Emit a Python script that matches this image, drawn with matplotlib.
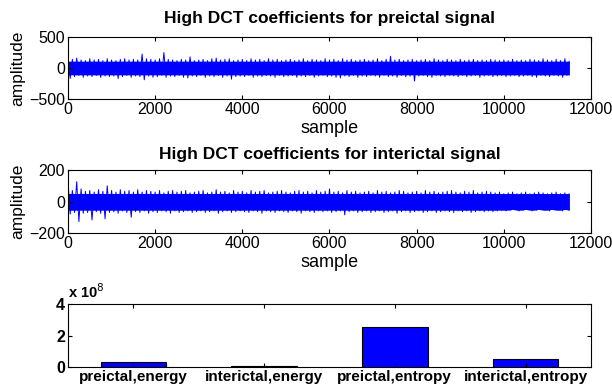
import numpy as np
import matplotlib
matplotlib.use("Agg")
import matplotlib.pyplot as plt

plt.rcParams['font.family'] = ['Liberation Sans', 'DejaVu Sans']

# ---- data (envelope of the signals, every 100 samples) ----
step = 100
pre_upper = [110, 140, 160, 130, 120, 150, 130, 140, 120, 150,
             130, 120, 140, 150, 130, 140, 130, 225, 150, 140,
             130, 150, 250, 140, 130, 120, 140, 130, 180, 120,
             130, 140, 120, 150, 160, 130, 140, 150, 120, 130,
             140, 120, 150, 130, 140, 120, 150, 130, 140, 120,
             130, 140, 120, 130, 150, 120, 140, 130, 120, 150,
             130, 140, 120, 150, 130, 140, 120, 130, 140, 120,
             130, 150, 120, 140, 190, 130, 140, 120, 130, 140,
             120, 130, 140, 120, 150, 130, 120, 140, 130, 120,
             140, 120, 130, 140, 120, 130, 120, 140, 130, 120,
             130, 120, 140, 120, 130, 120, 140, 130, 120, 150,
             130, 120, 140, 120, 150, 110]
pre_lower = [-170, -140, -120, -150, -130, -140, -120, -150, -130, -140,
             -130, -170, -140, -120, -150, -130, -140, -190, -130, -150,
             -140, -120, -150, -130, -140, -120, -150, -160, -130, -140,
             -120, -150, -130, -140, -120, -150, -130, -180, -140, -130,
             -140, -120, -150, -130, -140, -120, -130, -150, -120, -140,
             -130, -120, -150, -130, -140, -120, -150, -130, -120, -140,
             -130, -150, -160, -130, -140, -120, -150, -130, -140, -120,
             -130, -150, -120, -140, -130, -150, -120, -140, -130, -210,
             -130, -120, -140, -150, -120, -130, -140, -120, -130, -140,
             -120, -140, -130, -120, -150, -130, -120, -140, -130, -120,
             -140, -130, -120, -140, -130, -120, -140, -150, -120, -130,
             -140, -120, -130, -150, -120, -110]
inter_upper = [126, 70, 126, 80, 65, 70, 60, 75, 65, 100,
               70, 60, 75, 65, 70, 60, 75, 60, 70, 65,
               60, 70, 55, 65, 70, 60, 65, 70, 55, 60,
               65, 70, 55, 60, 75, 60, 65, 55, 70, 60,
               65, 55, 70, 60, 65, 70, 55, 60, 65, 70,
               60, 55, 65, 70, 60, 65, 55, 70, 60, 65,
               80, 60, 65, 55, 70, 60, 65, 55, 60, 65,
               55, 70, 60, 65, 55, 60, 70, 65, 55, 60,
               65, 55, 70, 60, 65, 55, 60, 65, 70, 60,
               55, 65, 60, 70, 55, 60, 65, 60, 55, 60,
               50, 55, 60, 50, 55, 60, 50, 55, 60, 55,
               50, 55, 60, 50, 55, 50]
inter_lower = [-80, -70, -128, -75, -70, -117, -65, -75, -110, -70,
               -65, -75, -60, -70, -100, -65, -70, -60, -75, -65,
               -70, -60, -65, -75, -60, -70, -65, -60, -70, -65,
               -60, -70, -65, -60, -75, -65, -60, -70, -65, -60,
               -65, -70, -60, -65, -75, -60, -65, -70, -60, -65,
               -70, -60, -65, -75, -60, -65, -70, -60, -65, -60,
               -70, -65, -60, -85, -65, -60, -70, -65, -60, -70,
               -65, -60, -70, -65, -60, -75, -65, -60, -70, -65,
               -60, -70, -65, -60, -70, -65, -60, -65, -70, -60,
               -65, -60, -70, -65, -60, -65, -60, -65, -60, -55,
               -60, -55, -50, -60, -55, -50, -60, -55, -50, -55,
               -60, -50, -55, -60, -50, -55]

bar_labels = ['preictal,energy', 'interictal,energy', 'preictal,entropy', 'interictal,entropy']
bar_values = [0.34e8, 0.06e8, 2.56e8, 0.53e8]

titles = ['High DCT coefficients for preictal signal',
          'High DCT coefficients for interictal signal']

fig = plt.figure(figsize=(6.12, 3.91), dpi=100)
W, H = 612, 391


def ax_rect(x0, y0, x1, y1):
    return [x0 / W, 1 - y1 / H, (x1 - x0) / W, (y1 - y0) / H]


def style(ax):
    ax.tick_params(direction='in', top=True, right=True, length=3, width=0.8,
                   labelsize=11.5, pad=2)
    for s in ax.spines.values():
        s.set_linewidth(0.8)


def draw_signal(ax, upper, lower, ylim, yticks, title, tpad):
    upper = np.asarray(upper, float)
    lower = np.asarray(lower, float)
    x = np.arange(len(upper)) * step
    core_hi = np.minimum(upper, 0.85 * np.median(upper))
    core_lo = np.maximum(lower, 0.85 * np.median(lower))
    ax.fill_between(x, core_lo, core_hi, color='blue', lw=0)
    xz = np.empty(2 * len(x))
    yz = np.empty(2 * len(x))
    xz[0::2] = x
    xz[1::2] = np.minimum(x + step / 2, x[-1])
    yz[0::2] = upper
    yz[1::2] = lower
    ax.plot(xz, yz, color='blue', lw=0.7)
    ax.set_xlim(0, 12000)
    ax.set_ylim(*ylim)
    ax.set_yticks(yticks)
    ax.set_xticks(range(0, 12001, 2000))
    ax.set_xlabel('sample', fontsize=13, labelpad=2)
    ax.set_ylabel('amplitude', fontsize=12.5, labelpad=3)
    ax.set_title(title, fontsize=12.5, fontweight='bold', pad=tpad)
    style(ax)


ax1 = fig.add_axes(ax_rect(68, 37, 591, 99))
draw_signal(ax1, pre_upper, pre_lower, (-500, 500), [-500, 0, 500], titles[0], 10)

ax2 = fig.add_axes(ax_rect(68, 170, 591, 233))
draw_signal(ax2, inter_upper, inter_lower, (-200, 200), [-200, 0, 200], titles[1], 8)

ax3 = fig.add_axes(ax_rect(68, 304, 591, 367))
pos = np.arange(1, len(bar_values) + 1)
ax3.bar(pos, np.asarray(bar_values) / 1e8, width=0.5, color='blue',
        edgecolor='black', linewidth=0.8)
ax3.set_xlim(0.5, 4.5)
ax3.set_ylim(0, 4)
ax3.set_yticks([0, 2, 4])
ax3.set_xticks(pos)
ax3.set_xticklabels(bar_labels, fontweight='bold')
for t in ax3.get_yticklabels():
    t.set_fontweight('bold')
style(ax3)
ax3.tick_params(axis='x', labelsize=11)
ax3.text(0.0, 1.04, r'x 10$^{8}$', transform=ax3.transAxes, fontsize=10.5,
         fontweight='bold', ha='left', va='bottom')

fig.savefig('out.png', dpi=100)
